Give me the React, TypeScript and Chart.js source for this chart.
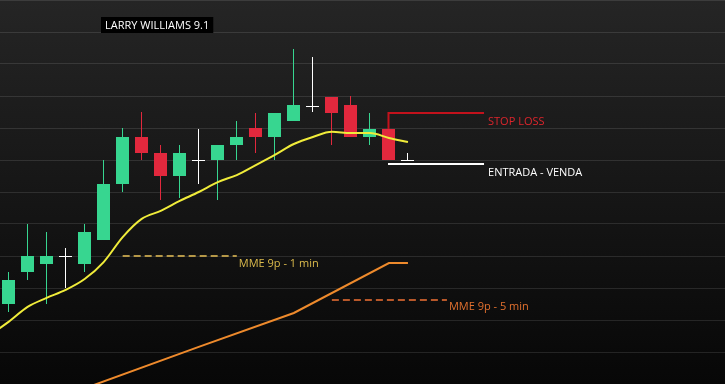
import React, { useEffect, useRef } from "react";
import { Chart, registerables } from "chart.js";

Chart.register(...registerables);

// ---- Data (price units: one grid step = 1) ----
const candleIndex = [0, 1, 2, 3, 4, 5, 6, 7, 8, 9, 10, 11, 12, 13, 14, 15, 16, 17, 18, 19, 20, 21];
const opens = [2.5, 3.5, 3.75, 4.0, 3.75, 4.5, 6.25, 7.72, 7.22, 6.5, 7.0, 7.0, 7.47, 8.0, 7.72, 8.22, 8.69, 8.97, 8.72, 7.72, 7.97, 7.0];
const highs = [3.5, 5.0, 4.75, 4.25, 5.0, 7.0, 8.0, 8.5, 7.47, 7.47, 7.97, 7.47, 8.22, 8.47, 8.47, 10.47, 10.22, 8.97, 9.0, 8.47, 7.97, 7.22];
const lows = [2.25, 3.25, 2.5, 3.0, 3.5, 4.5, 6.0, 7.0, 5.75, 5.81, 6.25, 5.75, 7.0, 7.22, 7.0, 8.22, 8.5, 7.47, 7.72, 7.47, 7.0, 7.0];
const closes = [3.25, 4.0, 4.0, 4.0, 4.75, 6.25, 7.72, 7.22, 6.5, 7.22, 7.0, 7.47, 7.72, 7.72, 8.47, 8.72, 8.69, 8.47, 7.72, 7.97, 7.0, 7.0];

const ema1Index = [-1, 0, 1, 2, 3, 4, 5, 6, 7, 8, 9, 10, 11, 12, 13, 14, 15, 16, 17, 18, 19, 20, 21];
const ema1Values = [1.53, 1.94, 2.41, 2.69, 2.94, 3.28, 3.81, 4.59, 5.16, 5.41, 5.72, 6.0, 6.31, 6.53, 6.84, 7.16, 7.5, 7.72, 7.88, 7.84, 7.84, 7.69, 7.56];

const ema5Index = [0, 10, 15, 20, 21];
const ema5Values = [-1.0, 1.16, 2.22, 3.78, 3.78];

const yMin = 0;
const yMax = 12;
const xMin = -0.45;
const xMax = 37.67;

// ---- Annotation texts / levels ----
const titleText = "LARRY WILLIAMS 9.1";
const stopLossLabel = "STOP LOSS";
const entryLabel = "ENTRADA - VENDA";
const ema1Label = "MME 9p - 1 min";
const ema5Label = "MME 9p - 5 min";
const signalIndex = 20;
const signalTop = 7.97;
const stopLevel = 8.47;
const entryLevel = 6.86;
const levelEndIndex = 25;
const ema1LabelLevel = 4.0;
const ema1LabelFrom = 6;
const ema1LabelTo = 12;
const ema5LabelLevel = 2.64;
const ema5LabelFrom = 17;
const ema5LabelTo = 23.05;

const GREEN = "#37d690";
const RED = "#e2283d";
const FONT = "'Open Sans', 'Liberation Sans', sans-serif";

const bgPlugin = {
  id: "bg",
  beforeDraw(chart: any) {
    const { ctx, width, height } = chart;
    const g = ctx.createLinearGradient(0, 0, 0, height);
    g.addColorStop(0, "#252525");
    g.addColorStop(1, "#070707");
    ctx.save();
    ctx.fillStyle = g;
    ctx.fillRect(0, 0, width, height);
    ctx.restore();
  },
};

const candlePlugin = {
  id: "candles",
  beforeDatasetsDraw(chart: any) {
    const { ctx, chartArea } = chart;
    const xs = chart.scales.x;
    const ys = chart.scales.y;
    const step = xs.getPixelForValue(1) - xs.getPixelForValue(0);
    const bodyW = Math.round(step * 0.68);
    ctx.save();
    ctx.beginPath();
    ctx.rect(chartArea.left, chartArea.top, chartArea.right - chartArea.left, chartArea.bottom - chartArea.top);
    ctx.clip();
    for (let i = 0; i < candleIndex.length; i++) {
      const px = Math.floor(xs.getPixelForValue(candleIndex[i]));
      const yO = ys.getPixelForValue(opens[i]);
      const yC = ys.getPixelForValue(closes[i]);
      const yH = ys.getPixelForValue(highs[i]);
      const yL = ys.getPixelForValue(lows[i]);
      const color = closes[i] > opens[i] ? GREEN : closes[i] < opens[i] ? RED : "#ffffff";
      ctx.fillStyle = color;
      ctx.fillRect(px, Math.round(yH), 1, Math.round(yL) - Math.round(yH));
      const left = px - Math.floor(bodyW / 2);
      if (opens[i] === closes[i]) {
        ctx.fillRect(left, Math.round(yO), bodyW, 1);
      } else {
        const top = Math.round(Math.min(yO, yC));
        const bot = Math.round(Math.max(yO, yC));
        ctx.fillRect(left, top, bodyW, bot - top);
      }
    }
    ctx.restore();
  },
};

const annotationPlugin = {
  id: "annotations",
  afterDatasetsDraw(chart: any) {
    const { ctx } = chart;
    const xs = chart.scales.x;
    const ys = chart.scales.y;
    const X = (v: number) => xs.getPixelForValue(v);
    const Y = (v: number) => ys.getPixelForValue(v);
    ctx.save();

    // Stop loss
    ctx.strokeStyle = "#c3121c";
    ctx.lineWidth = 2;
    ctx.beginPath();
    const sx = Math.floor(X(signalIndex)) + 0.5;
    ctx.moveTo(sx, Y(signalTop));
    ctx.lineTo(sx, Math.round(Y(stopLevel)));
    ctx.lineTo(X(levelEndIndex), Math.round(Y(stopLevel)));
    ctx.stroke();

    // Entry
    ctx.strokeStyle = "#ffffff";
    ctx.beginPath();
    ctx.moveTo(sx - 0.5, Math.round(Y(entryLevel)));
    ctx.lineTo(X(levelEndIndex), Math.round(Y(entryLevel)));
    ctx.stroke();

    // EMA labels dashes
    ctx.setLineDash([7, 4]);
    ctx.lineWidth = 2;
    ctx.strokeStyle = "#b69848";
    ctx.beginPath();
    ctx.moveTo(X(ema1LabelFrom), Math.round(Y(ema1LabelLevel)));
    ctx.lineTo(X(ema1LabelTo), Math.round(Y(ema1LabelLevel)));
    ctx.stroke();
    ctx.strokeStyle = "#b8582a";
    ctx.beginPath();
    ctx.moveTo(X(ema5LabelFrom), Math.round(Y(ema5LabelLevel)));
    ctx.lineTo(X(ema5LabelTo), Math.round(Y(ema5LabelLevel)));
    ctx.stroke();
    ctx.setLineDash([]);

    // Texts
    ctx.font = `11px ${FONT}`;
    ctx.textBaseline = "middle";
    ctx.textAlign = "left";
    ctx.fillStyle = "#dc252c";
    ctx.fillText(stopLossLabel, X(levelEndIndex) + 4, Y(stopLevel) + 9);
    ctx.fillStyle = "#ffffff";
    ctx.fillText(entryLabel, X(levelEndIndex) + 4, Y(entryLevel) + 8);
    ctx.fillStyle = "#dcbb4c";
    ctx.fillText(ema1Label, X(ema1LabelTo) + 2, Y(ema1LabelLevel) + 8);
    ctx.fillStyle = "#e2702e";
    ctx.fillText(ema5Label, X(ema5LabelTo) + 2, Y(ema5LabelLevel) + 7);

    // Title box
    ctx.font = `11px ${FONT}`;
    const tw = ctx.measureText(titleText).width;
    ctx.fillStyle = "#000000";
    ctx.fillRect(101, 17, tw + 8, 16);
    ctx.fillStyle = "#ffffff";
    ctx.fillText(titleText, 105, 25.5);
    ctx.restore();
  },
};

export default function App() {
  const ref = useRef<HTMLCanvasElement | null>(null);
  useEffect(() => {
    if (!ref.current) return;
    const chart = new Chart(ref.current, {
      type: "line",
      data: {
        datasets: [
          {
            label: ema1Label,
            data: ema1Index.map((x, i) => ({ x, y: ema1Values[i] })),
            borderColor: "#f0ec3a",
            borderWidth: 2,
            pointRadius: 0,
            cubicInterpolationMode: "monotone",
          },
          {
            label: ema5Label,
            data: ema5Index.map((x, i) => ({ x, y: ema5Values[i] })),
            borderColor: "#ee8a2c",
            borderWidth: 2,
            pointRadius: 0,
            tension: 0,
          },
        ],
      },
      options: {
        animation: false,
        responsive: true,
        maintainAspectRatio: false,
        layout: { padding: 0 },
        plugins: { legend: { display: false }, tooltip: { enabled: false }, title: { display: false } },
        scales: {
          x: {
            type: "linear",
            min: xMin,
            max: xMax,
            display: false,
          },
          y: {
            type: "linear",
            min: yMin,
            max: yMax,
            ticks: { display: false, stepSize: 1 },
            border: { display: false },
            grid: { color: "rgba(255,255,255,0.11)", lineWidth: 1, drawTicks: false },
          },
        },
      },
      plugins: [bgPlugin, candlePlugin, annotationPlugin],
    });
    return () => chart.destroy();
  }, []);
  return (
    <div style={{ position: "absolute", left: 0, top: 0, width: 725, height: 384 }}>
      <canvas ref={ref} />
    </div>
  );
}
